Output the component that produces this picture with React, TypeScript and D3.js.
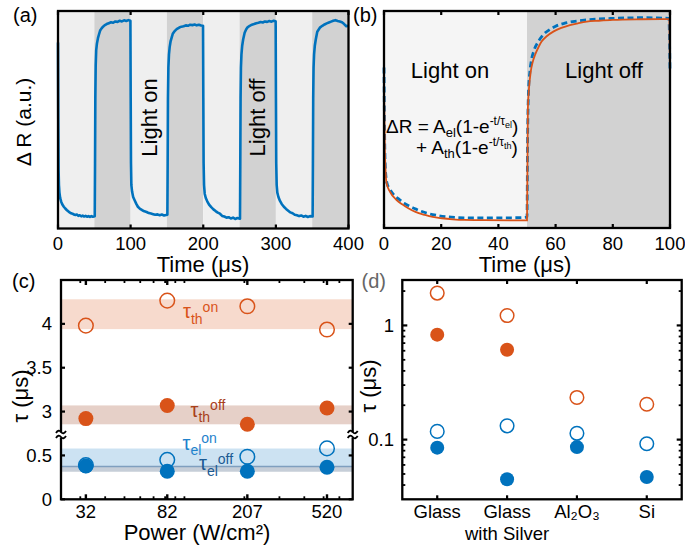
import React from 'react';
import * as d3 from 'd3';

const FONT = "'Liberation Sans', Arial, Helvetica, sans-serif";
const BLUE = '#0072BD';
const ORANGE = '#D95319';

// ---------- Panel (a): ΔR trace over 4 light cycles ----------
const aTicks = [0, 100, 200, 300, 400];
const aPhases: [number, number, string][] = [
  [0, 50, 'on'], [50, 100, 'off'], [100, 150, 'on'], [150, 200, 'off'],
  [200, 250, 'on'], [250, 300, 'off'], [300, 350, 'on'], [350, 400, 'off'],
];
const aTrace: [number, number][] = [
  [0, 0.855], [0.4, 0.5], [0.8, 0.27], [1.3, 0.2], [2, 0.165], [3, 0.14], [4.5, 0.122], [6, 0.11], [8, 0.1],
  [10, 0.092], [12, 0.085], [14, 0.079], [16, 0.074], [18, 0.07], [20, 0.068], [22, 0.064], [24, 0.062],
  [26, 0.064], [28, 0.058], [30, 0.061], [32, 0.056], [34, 0.059], [36, 0.055], [38, 0.058], [40, 0.054],
  [42, 0.057], [44, 0.053], [46, 0.057], [48, 0.054], [50.6, 0.056],
  [51, 0.3], [51.4, 0.6], [51.9, 0.75], [52.6, 0.82], [53.6, 0.85], [55, 0.875], [56.5, 0.893], [58, 0.91],
  [60, 0.92], [62, 0.928], [64, 0.934], [67, 0.94], [70, 0.944], [73, 0.948], [76, 0.946], [79, 0.952],
  [82, 0.95], [85, 0.955], [88, 0.952], [91, 0.957], [94, 0.954], [97, 0.958], [99.7, 0.955],
  [100.1, 0.6], [100.5, 0.3], [101, 0.2], [102, 0.17], [103.5, 0.145], [105.5, 0.13], [108, 0.112],
  [110, 0.1], [113, 0.09], [116, 0.084], [119, 0.079], [122, 0.076], [125, 0.071], [128, 0.069],
  [131, 0.066], [134, 0.063], [137, 0.065], [140, 0.061], [143, 0.064], [146, 0.06], [150.6, 0.063],
  [151, 0.3], [151.4, 0.6], [152, 0.74], [152.8, 0.8], [153.8, 0.835], [155, 0.86], [156.5, 0.878],
  [158, 0.895], [160, 0.905], [162, 0.912], [164, 0.918], [167, 0.924], [170, 0.928], [173, 0.93],
  [176, 0.934], [179, 0.932], [182, 0.937], [185, 0.935], [188, 0.938], [191, 0.934], [194, 0.937],
  [197, 0.933], [199.7, 0.932],
  [200.1, 0.6], [200.5, 0.3], [201.1, 0.2], [202, 0.16], [203.5, 0.14], [205.5, 0.125], [208, 0.11],
  [211, 0.098], [214, 0.088], [217, 0.08], [220, 0.073], [223, 0.068], [226, 0.058], [229, 0.055],
  [232, 0.05], [235, 0.052], [238, 0.046], [241, 0.05], [244, 0.044], [247, 0.048], [250.6, 0.045],
  [251, 0.3], [251.4, 0.6], [251.9, 0.74], [252.6, 0.8], [253.6, 0.84], [255, 0.87], [257, 0.9],
  [259, 0.915], [261, 0.925], [264, 0.932], [267, 0.937], [270, 0.94], [273, 0.944], [276, 0.946],
  [279, 0.949], [282, 0.947], [285, 0.952], [288, 0.95], [291, 0.954], [294, 0.951], [297, 0.955],
  [299.7, 0.953],
  [300.1, 0.6], [300.5, 0.3], [301.1, 0.2], [302, 0.165], [303.5, 0.145], [305.5, 0.128], [308, 0.113],
  [311, 0.1], [314, 0.09], [317, 0.082], [320, 0.074], [323, 0.07], [326, 0.063], [329, 0.061],
  [332, 0.057], [335, 0.06], [338, 0.054], [341, 0.058], [344, 0.053], [347, 0.057], [350.6, 0.055],
  [351, 0.3], [351.4, 0.6], [351.9, 0.74], [352.6, 0.8], [353.6, 0.84], [355, 0.87], [357, 0.905],
  [359, 0.915], [361, 0.925], [364, 0.932], [367, 0.938], [370, 0.943], [373, 0.947], [376, 0.951],
  [379, 0.955], [382, 0.958], [385, 0.954], [388, 0.952], [391, 0.948], [394, 0.94], [397, 0.93],
  [400, 0.932],
];

// ---------- Panel (b): one cycle, data (dashed) and fit ----------
const bTicks = [0, 20, 40, 60, 80, 100];
const bPhases: [number, number, string][] = [[0, 50, 'on'], [50, 100, 'off']];
const bData: [number, number][] = [
  [0, 0.74], [0.2, 0.45], [0.5, 0.27], [1, 0.21], [2, 0.18], [3, 0.16], [4, 0.145], [5.5, 0.13],
  [7, 0.115], [9, 0.1], [11, 0.088], [13, 0.077], [15, 0.068], [17, 0.062], [19, 0.057], [22, 0.052],
  [25, 0.049], [28, 0.047], [32, 0.046], [36, 0.046], [40, 0.047], [44, 0.047], [48, 0.048], [50, 0.05],
  [50.2, 0.4], [50.5, 0.62], [51, 0.72], [51.5, 0.77], [52.5, 0.82], [54, 0.86], [56, 0.895],
  [58, 0.915], [60, 0.93], [63, 0.943], [66, 0.951], [70, 0.958], [75, 0.963], [80, 0.966],
  [85, 0.968], [90, 0.969], [95, 0.968], [99.6, 0.966], [100, 0.72],
];
const bFit: [number, number][] = [
  [0, 0.682], [0.3, 0.36], [0.9, 0.206], [2.1, 0.167], [4.4, 0.129], [6.5, 0.108], [8.5, 0.091],
  [11, 0.074], [14.3, 0.06], [17, 0.051], [20.2, 0.045], [24, 0.04], [28, 0.037], [35, 0.036],
  [50, 0.035], [50.3, 0.55], [50.7, 0.644], [51.3, 0.72], [52, 0.765], [52.8, 0.797], [54, 0.833],
  [55.1, 0.859], [57, 0.885], [59.2, 0.905], [62, 0.922], [65, 0.935], [68, 0.944], [70.9, 0.951],
  [75, 0.955], [80, 0.959], [90, 0.962], [99.8, 0.963], [100, 0.682],
];

// ---------- Panel (c): time constants vs power ----------
const powers = [32, 82, 207, 520];
const tauThOn = [3.98, 4.265, 4.2, 3.935];
const tauThOff = [2.92, 3.07, 2.855, 3.04];
const tauElOn = [0.39, 0.45, 0.485, 0.58];
const tauElOff = [0.38, 0.32, 0.32, 0.366];
const bandThOn = [3.94, 4.28];
const bandThOff = [2.855, 3.07];
const bandElOn = [0.374, 0.579];
const bandElOff = [0.314, 0.374];
const cLowTicks = [0, 0.5];
const cHighTicks = [3, 3.5, 4];

// ---------- Panel (d): time constants vs substrate ----------
const substrates = ['Glass', 'Glass with Silver', 'Al₂O₃', 'Si'];
const subLine1 = ['Glass', 'Glass', 'Al₂O₃', 'Si'];
const subLine2 = ['', 'with Silver', '', ''];
const dThOn = [1.92, 1.22, 0.234, 0.204];
const dThOff: (number | null)[] = [0.83, 0.613, null, null];
const dElOn = [0.118, 0.132, 0.1135, 0.092];
const dElOff = [0.085, 0.045, 0.086, 0.047];
const dMajor = [0.1, 1];

const TICK_FS = 18.5;
const LABEL_FS = 22;
const TICK_BASE = 249.5;
const XLABEL_BASE = 272;

function Frame({ x0, x1, y0, y1 }: { x0: number; x1: number; y0: number; y1: number }) {
  return <rect x={x0} y={y1} width={x1 - x0} height={y0 - y1} fill="none" stroke="#000" strokeWidth={2.3} />;
}

function PanelA() {
  const x = d3.scaleLinear().domain([0, 400]).range([58, 348.5]);
  const y = d3.scaleLinear().domain([0, 1]).range([228.5, 11]);
  const line = d3.line<[number, number]>().x((d) => x(d[0])).y((d) => y(d[1]));
  return (
    <g>
      {aPhases.map((p, i) => (
        <rect key={i} x={x(p[0])} y={y(1)} width={x(p[1]) - x(p[0])} height={y(0) - y(1)}
          fill={p[2] === 'on' ? '#efefef' : '#d2d2d2'} />
      ))}
      <path d={line(aTrace) || ''} fill="none" stroke={BLUE} strokeWidth={2.6} strokeLinejoin="round" />
      <text transform={`translate(149,117.5) rotate(-90)`} textAnchor="middle" dominantBaseline="central" fontSize={22}>Light on</text>
      <text transform={`translate(257.5,117.5) rotate(-90)`} textAnchor="middle" dominantBaseline="central" fontSize={22}>Light off</text>
      <Frame x0={58} x1={348.5} y0={228.5} y1={11} />
      {aTicks.map((t) => (
        <g key={t}>
          <line x1={x(t)} x2={x(t)} y1={y(0)} y2={y(0) - 4} stroke="#000" strokeWidth={2.2} />
          <line x1={x(t)} x2={x(t)} y1={y(1)} y2={y(1) + 4} stroke="#000" strokeWidth={2.2} />
          <text x={x(t)} y={TICK_BASE} textAnchor="middle" fontSize={TICK_FS}>{t}</text>
        </g>
      ))}
      <text x={203} y={XLABEL_BASE} textAnchor="middle" fontSize={LABEL_FS}>Time (μs)</text>
      <text transform={`translate(23,122) rotate(-90)`} textAnchor="middle" dominantBaseline="central" fontSize={21}>Δ R (a.u.)</text>
      <text x={13} y={21.5} fontSize={20}>(a)</text>
    </g>
  );
}

function PanelB() {
  const x = d3.scaleLinear().domain([0, 100]).range([384, 670]);
  const y = d3.scaleLinear().domain([0, 1]).range([228, 11]);
  const line = d3.line<[number, number]>().x((d) => x(d[0])).y((d) => y(d[1])).curve(d3.curveMonotoneX);
  return (
    <g>
      {bPhases.map((p, i) => (
        <rect key={i} x={x(p[0])} y={y(1)} width={x(p[1]) - x(p[0])} height={y(0) - y(1)}
          fill={p[2] === 'on' ? '#f5f5f5' : '#d2d2d2'} />
      ))}
      <path d={line(bData) || ''} fill="none" stroke={BLUE} strokeWidth={2.8} strokeDasharray="6 3.5" />
      <path d={line(bFit) || ''} fill="none" stroke={ORANGE} strokeWidth={1.8} />
      <text x={450} y={78} textAnchor="middle" fontSize={22}>Light on</text>
      <text x={604} y={78} textAnchor="middle" fontSize={22}>Light off</text>
      <text x={386} y={133} fontSize={19}>
        ΔR = A<tspan fontSize={13} dy={4}>el</tspan>
        <tspan fontSize={19} dy={-4}>(1-e</tspan>
        <tspan fontSize={12} dy={-8}>-t/τ</tspan>
        <tspan fontSize={9} dy={3}>el</tspan>
        <tspan fontSize={19} dy={5}>)</tspan>
      </text>
      <text x={416} y={154} fontSize={19}>
        + A<tspan fontSize={13} dy={4}>th</tspan>
        <tspan fontSize={19} dy={-4}>(1-e</tspan>
        <tspan fontSize={12} dy={-8}>-t/τ</tspan>
        <tspan fontSize={9} dy={3}>th</tspan>
        <tspan fontSize={19} dy={5}>)</tspan>
      </text>
      <Frame x0={384} x1={670} y0={228} y1={11} />
      {bTicks.map((t) => (
        <g key={t}>
          <line x1={x(t)} x2={x(t)} y1={y(0)} y2={y(0) - 4} stroke="#000" strokeWidth={2.2} />
          <line x1={x(t)} x2={x(t)} y1={y(1)} y2={y(1) + 4} stroke="#000" strokeWidth={2.2} />
          <text x={x(t)} y={TICK_BASE} textAnchor="middle" fontSize={TICK_FS}>{t}</text>
        </g>
      ))}
      <text x={525} y={XLABEL_BASE} textAnchor="middle" fontSize={LABEL_FS}>Time (μs)</text>
      <text x={353} y={21.5} fontSize={20}>(b)</text>
    </g>
  );
}

function BreakMark({ cx, cy }: { cx: number; cy: number }) {
  const tilde = (yy: number) => `M${cx - 5},${yy + 1} q2.5,-4 5,-1 t5,-1`;
  return (
    <g>
      <rect x={cx - 6} y={cy - 2.5} width={12} height={5} fill="#fff" />
      <path d={tilde(cy - 3)} fill="none" stroke="#000" strokeWidth={1.8} />
      <path d={tilde(cy + 2)} fill="none" stroke="#000" strokeWidth={1.8} />
    </g>
  );
}

function TauLabel({ x, y, sub, sup, color, fs = 20 }: { x: number; y: number; sub: string; sup: string; color: string; fs?: number }) {
  return (
    <text x={x} y={y} fill={color} fontSize={fs}>
      τ<tspan fontSize={14} dy={5.5}>{sub}</tspan>
      <tspan fontSize={14} dy={-12}>{sup}</tspan>
    </text>
  );
}

function PanelC() {
  const X0 = 61, X1 = 352.7, Y0 = 499.3, Y1 = 280, YB = 433.5;
  const x = d3.scaleLog().domain([24, 700]).range([X0, X1]);
  const yLow = d3.scaleLinear().domain([0, 0.75]).range([Y0, YB]);
  const yHigh = d3.scaleLinear().domain([2.75, 4.5]).range([YB, Y1]);
  const y = (v: number) => (v <= 1.5 ? yLow(v) : yHigh(v));
  const minor = x.ticks().filter((t) => t > 25 && t < 690);
  const yTicks = [...cLowTicks, ...cHighTicks];
  const band = (b: number[], fill: string, key: string) => (
    <rect key={key} x={X0} y={y(b[1])} width={X1 - X0} height={y(b[0]) - y(b[1])} fill={fill} />
  );
  return (
    <g>
      {band(bandThOn, '#f7dacd', 'b1')}
      {band(bandThOff, '#e6d0c8', 'b2')}
      {band(bandElOn, '#cce2f2', 'b3')}
      {band(bandElOff, '#c6ced8', 'b4')}
      <line x1={X0} x2={X1} y1={y(bandElOff[1])} y2={y(bandElOff[1])} stroke="#7f9fbf" strokeWidth={1.5} />
      {powers.map((p, i) => (
        <g key={p}>
          <circle cx={x(p)} cy={y(tauThOn[i])} r={7.3} fill="none" stroke={ORANGE} strokeWidth={1.5} />
          <circle cx={x(p)} cy={y(tauElOn[i])} r={7.3} fill="none" stroke={BLUE} strokeWidth={1.5} />
          <circle cx={x(p)} cy={y(tauThOff[i])} r={7.5} fill={ORANGE} />
          <circle cx={x(p)} cy={y(tauElOff[i])} r={7.5} fill={BLUE} />
        </g>
      ))}
      <TauLabel x={183} y={318} sub="th" sup="on" color={ORANGE} />
      <TauLabel x={190.5} y={416.5} sub="th" sup="off" color="#a8401a" />
      <TauLabel x={182.5} y={449.5} sub="el" sup="on" color="#1f82cc" />
      <TauLabel x={199} y={470} sub="el" sup="off" color="#1b5a93" />
      <Frame x0={X0} x1={X1} y0={Y0} y1={Y1} />
      {minor.map((t) => (
        <g key={'m' + t}>
          <line x1={x(t)} x2={x(t)} y1={Y0} y2={Y0 - 3} stroke="#000" strokeWidth={1.8} />
          <line x1={x(t)} x2={x(t)} y1={Y1} y2={Y1 + 3} stroke="#000" strokeWidth={1.8} />
        </g>
      ))}
      {powers.map((p) => (
        <g key={'t' + p}>
          <line x1={x(p)} x2={x(p)} y1={Y0} y2={Y0 - 5} stroke="#000" strokeWidth={2.4} />
          <line x1={x(p)} x2={x(p)} y1={Y1} y2={Y1 + 5} stroke="#000" strokeWidth={2.4} />
          <text x={x(p)} y={518} textAnchor="middle" fontSize={TICK_FS}>{p}</text>
        </g>
      ))}
      {yTicks.map((v) => (
        <g key={'y' + v}>
          <line x1={X0} x2={X0 + 4} y1={y(v)} y2={y(v)} stroke="#000" strokeWidth={2.2} />
          <line x1={X1} x2={X1 - 4} y1={y(v)} y2={y(v)} stroke="#000" strokeWidth={2.2} />
          <text x={52} y={y(v) + 6.5} textAnchor="end" fontSize={TICK_FS}>{v}</text>
        </g>
      ))}
      <BreakMark cx={X0} cy={YB + 1.5} />
      <BreakMark cx={X1} cy={YB + 1.5} />
      <text x={197} y={540} textAnchor="middle" fontSize={LABEL_FS}>Power (W/cm²)</text>
      <text transform={`translate(20,396) rotate(-90)`} textAnchor="middle" dominantBaseline="central" fontSize={LABEL_FS}>τ (μs)</text>
      <text x={12} y={287.5} fontSize={20}>(c)</text>
    </g>
  );
}

function PanelD() {
  const X0 = 402.3, X1 = 681.7, Y0 = 499.3, Y1 = 280;
  const x = d3.scalePoint<string>().domain(substrates).range([X0, X1]).padding(0.5);
  const y = d3.scaleLog().domain([0.03, 2.5]).range([Y0, Y1]);
  const minor = y.ticks().filter((t) => !dMajor.includes(t) && t > 0.031 && t < 2.45);
  return (
    <g>
      {substrates.map((s, i) => (
        <g key={s}>
          <circle cx={x(s)} cy={y(dThOn[i])} r={6.8} fill="none" stroke={ORANGE} strokeWidth={1.5} />
          <circle cx={x(s)} cy={y(dElOn[i])} r={6.8} fill="none" stroke={BLUE} strokeWidth={1.5} />
          {dThOff[i] != null && <circle cx={x(s)} cy={y(dThOff[i] as number)} r={7} fill={ORANGE} />}
          <circle cx={x(s)} cy={y(dElOff[i])} r={7} fill={BLUE} />
        </g>
      ))}
      <Frame x0={X0} x1={X1} y0={Y0} y1={Y1} />
      {minor.map((t) => (
        <g key={'m' + t}>
          <line x1={X0} x2={X0 + 3} y1={y(t)} y2={y(t)} stroke="#000" strokeWidth={1.8} />
          <line x1={X1} x2={X1 - 3} y1={y(t)} y2={y(t)} stroke="#000" strokeWidth={1.8} />
        </g>
      ))}
      {dMajor.map((t) => (
        <g key={'M' + t}>
          <line x1={X0} x2={X0 + 5} y1={y(t)} y2={y(t)} stroke="#000" strokeWidth={2.2} />
          <line x1={X1} x2={X1 - 5} y1={y(t)} y2={y(t)} stroke="#000" strokeWidth={2.2} />
          <text x={394} y={y(t) + 6.5} textAnchor="end" fontSize={TICK_FS}>{t}</text>
        </g>
      ))}
      {substrates.map((s, i) => (
        <g key={'t' + s}>
          <line x1={x(s)} x2={x(s)} y1={Y0} y2={Y0 - 4} stroke="#000" strokeWidth={2.2} />
          <line x1={x(s)} x2={x(s)} y1={Y1} y2={Y1 + 4} stroke="#000" strokeWidth={2.2} />
          <text x={x(s)} y={518} textAnchor="middle" fontSize={TICK_FS}>{subLine1[i]}</text>
          {subLine2[i] && <text x={x(s)} y={540} textAnchor="middle" fontSize={TICK_FS}>{subLine2[i]}</text>}
        </g>
      ))}
      <text transform={`translate(368,386) rotate(-90)`} textAnchor="middle" dominantBaseline="central" fontSize={LABEL_FS}>τ (μs)</text>
      <text x={361.5} y={287.5} fontSize={20} fill="#666">(d)</text>
    </g>
  );
}

export default function App() {
  return (
    <svg width={685} height={548} style={{ position: 'absolute', left: 0, top: 0 }} fontFamily={FONT}>
      <rect width={685} height={548} fill="#fff" />
      <PanelA />
      <PanelB />
      <PanelC />
      <PanelD />
    </svg>
  );
}
